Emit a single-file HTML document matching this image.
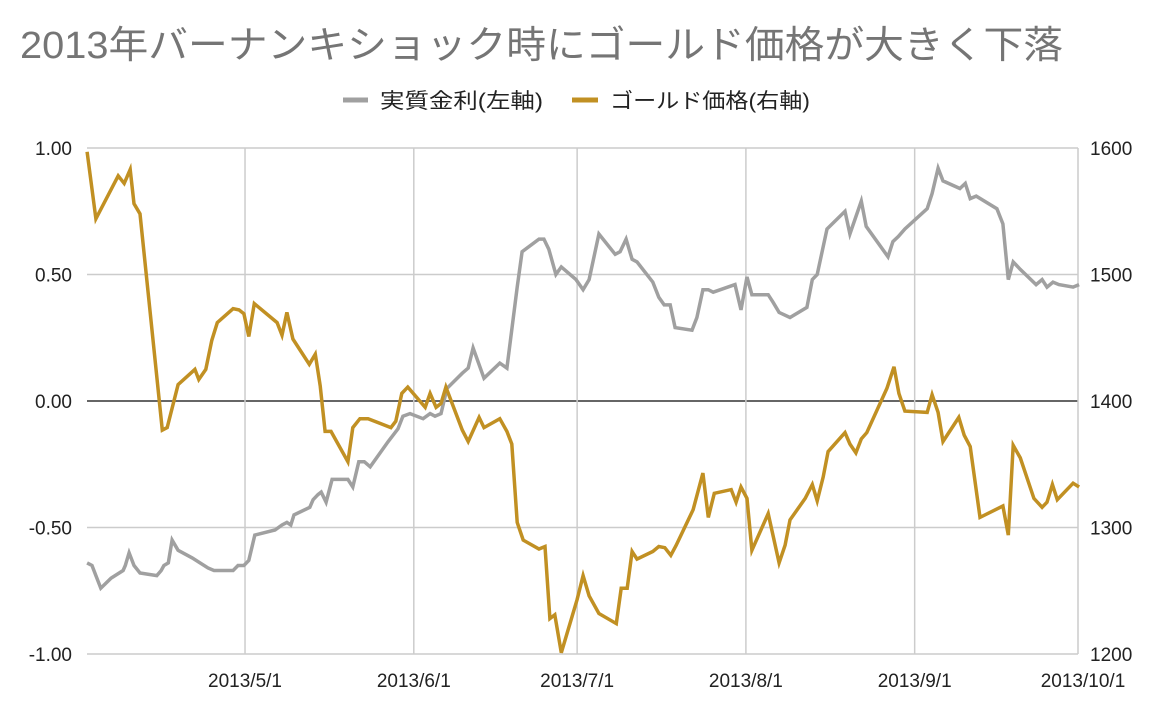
<!DOCTYPE html>
<html><head><meta charset="utf-8">
<style>
html,body{margin:0;padding:0;background:#fff;}
body{width:1172px;height:708px;overflow:hidden;font-family:"Liberation Sans","Noto Sans CJK JP",sans-serif;}
svg text{font-family:"Liberation Sans","Noto Sans CJK JP",sans-serif;}
</style></head>
<body>
<svg id="chart" width="1172" height="708" xmlns="http://www.w3.org/2000/svg">
<text x="20" y="58" font-size="38" fill="#757575" textLength="1043" lengthAdjust="spacingAndGlyphs">2013年バーナンキショック時にゴールド価格が大きく下落</text>
<g>
<g>
<line x1="343" y1="100" x2="368" y2="100" stroke="#a0a0a0" stroke-width="5"/>
<text x="380" y="108" font-size="21" fill="#222" textLength="163" lengthAdjust="spacingAndGlyphs">実質金利(左軸)</text>
</g>
<g>
<line x1="572" y1="100" x2="598" y2="100" stroke="#c19023" stroke-width="5"/>
<text x="610" y="108" font-size="21" fill="#222" textLength="200" lengthAdjust="spacingAndGlyphs">ゴールド価格(右軸)</text>
</g>
</g>
<g id="grid"></g>
<g id="axes"></g>
<g id="series"></g>
</svg>
<script>
// days since 2013-04-01
const realRateDays=[1.0,1.9,2.6,3.5,5.4,7.6,8.0,8.7,9.6,10.7,13.8,14.6,15.1,15.9,16.6,17.7,20.3,23.2,24.3,27.8,28.7,29.8,30.7,31.8,35.5,36.8,37.7,38.4,39.0,41.9,42.5,43.4,44.0,44.9,46.0,48.9,49.8,50.9,51.9,53.0,56.3,58.1,59.0,60.3,62.7,64.0,64.9,66.0,67.1,69.9,71.0,71.9,73.9,76.8,78.1,80.0,80.9,84.0,84.9,85.8,87.1,88.1,90.8,92.1,93.2,95.0,98.0,98.9,100.0,101.1,102.0,104.9,106.0,107.0,108.1,109.0,112.1,113.0,114.1,115.1,116.0,120.0,121.1,122.2,123.1,126.1,127.0,128.1,130.1,133.2,134.2,135.1,136.9,140.2,141.1,143.2,144.1,148.1,149.0,150.0,151.2,155.3,156.2,157.3,158.2,161.3,162.3,163.2,164.3,168.1,169.2,170.2,171.1,172.4,175.3,176.4,177.3,178.4,179.5,182.1,183.2];
const realRateValues=[-0.64,-0.65,-0.69,-0.74,-0.70,-0.67,-0.65,-0.60,-0.65,-0.68,-0.69,-0.67,-0.65,-0.64,-0.55,-0.59,-0.62,-0.66,-0.67,-0.67,-0.65,-0.65,-0.63,-0.53,-0.51,-0.49,-0.48,-0.49,-0.45,-0.42,-0.39,-0.37,-0.36,-0.40,-0.31,-0.31,-0.34,-0.24,-0.24,-0.26,-0.16,-0.11,-0.06,-0.05,-0.07,-0.05,-0.06,-0.05,0.05,0.11,0.13,0.21,0.09,0.15,0.13,0.45,0.59,0.64,0.64,0.60,0.50,0.53,0.48,0.44,0.48,0.66,0.58,0.59,0.64,0.56,0.55,0.47,0.41,0.38,0.38,0.29,0.28,0.33,0.44,0.44,0.43,0.46,0.36,0.49,0.42,0.42,0.39,0.35,0.33,0.37,0.48,0.50,0.68,0.75,0.66,0.79,0.69,0.57,0.63,0.65,0.68,0.76,0.82,0.92,0.87,0.84,0.86,0.80,0.81,0.76,0.70,0.48,0.55,0.52,0.46,0.48,0.45,0.47,0.46,0.45,0.46];
const goldDays=[1.0,2.6,6.7,7.8,8.9,9.6,10.7,14.8,15.7,17.7,20.8,21.5,22.8,23.9,24.9,27.8,28.9,29.8,30.7,31.7,35.9,36.8,37.7,38.8,41.8,42.9,43.8,44.7,45.8,48.9,49.8,51.1,52.6,56.8,57.7,58.8,59.9,63.1,64.0,65.1,66.0,66.9,69.9,71.0,73.0,73.9,76.8,78.1,79.0,80.0,81.1,84.0,85.1,86.0,86.9,88.1,91.0,92.1,93.2,95.0,98.2,99.1,100.2,101.1,102.0,104.9,106.0,107.1,108.2,109.2,112.3,114.1,115.1,116.2,119.3,120.2,121.1,122.2,123.1,126.1,128.1,129.2,130.1,132.9,134.2,135.1,136.2,137.1,140.2,141.1,142.2,143.2,144.2,147.9,149.2,150.1,151.2,155.3,156.2,157.3,158.2,161.1,162.1,163.2,165.0,169.2,170.2,171.1,172.4,174.9,176.4,177.3,178.3,179.2,182.1,183.2];
const goldValues=[1597,1544,1578,1572,1583,1556,1548,1377,1379,1413,1425,1417,1425,1448,1462,1473,1472,1469,1451,1477,1462,1452,1470,1449,1429,1437,1412,1376,1376,1352,1379,1386,1386,1379,1384,1406,1411,1395,1406,1395,1398,1411,1377,1368,1387,1379,1386,1376,1366,1304,1290,1283,1285,1228,1231,1201,1243,1262,1246,1232,1224,1252,1252,1281,1275,1281,1285,1284,1278,1286,1314,1343,1308,1327,1330,1320,1332,1323,1282,1311,1272,1286,1306,1323,1334,1321,1340,1360,1375,1366,1359,1370,1375,1410,1427,1406,1392,1391,1405,1391,1368,1387,1373,1364,1308,1317,1294,1365,1355,1323,1316,1320,1334,1322,1335,1332];
const leftTicks=[1,0.5,0,-0.5,-1];
const leftTickLabels=["1.00","0.50","0.00","-0.50","-1.00"];
const rightTicks=[1600,1500,1400,1300,1200];
const xTickDays=[30,61,91,122,153,183];
const xTickLabels=["2013/5/1","2013/6/1","2013/7/1","2013/8/1","2013/9/1","2013/10/1"];

const NS="http://www.w3.org/2000/svg";
const X0=87,X1=1078,Y0=148,Y1=654;
function xScale(d){return 81.7+d*(1078-81.7)/183;}
function yLeft(v){return 401-v*253;}
function yRight(p){return 401-(p-1400)*(506/400);}
function mk(tag,attrs,parent){const e=document.createElementNS(NS,tag);for(const k in attrs)e.setAttribute(k,attrs[k]);parent.appendChild(e);return e;}
const grid=document.getElementById('grid'),axes=document.getElementById('axes'),series=document.getElementById('series');
leftTicks.forEach((v,i)=>{
  const y=yLeft(v);
  const l=mk('line',{x1:X0,x2:X1,y1:y,y2:y,stroke:v===0?'#333':'#cccccc','stroke-width':1.5},grid);
  
  
  const t=mk('text',{x:72,y:y+7,'text-anchor':'end','font-size':19,fill:'#222'},axes);
  t.textContent=leftTickLabels[i];
  
  
});
rightTicks.forEach(p=>{
  const t=mk('text',{x:1090,y:yRight(p)+7,'font-size':19,fill:'#222'},axes);
  t.textContent=String(p);
  
  
});
xTickDays.forEach((d,i)=>{
  const x=xScale(d);
  const l=mk('line',{x1:x,x2:x,y1:Y0,y2:Y1,stroke:'#cccccc','stroke-width':1.5},grid);
  
  
  const t=mk('text',{x:i===xTickDays.length-1?x+5:x,y:687,'text-anchor':'middle','font-size':19,fill:'#222'},axes);
  t.textContent=xTickLabels[i];
  
  
});
function path(days,vals,ys,color,name){
  const d=days.map((dd,i)=>(i?'L':'M')+xScale(dd).toFixed(1)+' '+ys(vals[i]).toFixed(1)).join(' ');
  const p=mk('path',{d:d,fill:'none',stroke:color,'stroke-width':3.5,'stroke-linejoin':'miter'},series);
  
  
}
path(realRateDays,realRateValues,yLeft,'#a0a0a0','real-rate-line');
path(goldDays,goldValues,yRight,'#c19023','gold-price-line');
</script>
</body></html>
